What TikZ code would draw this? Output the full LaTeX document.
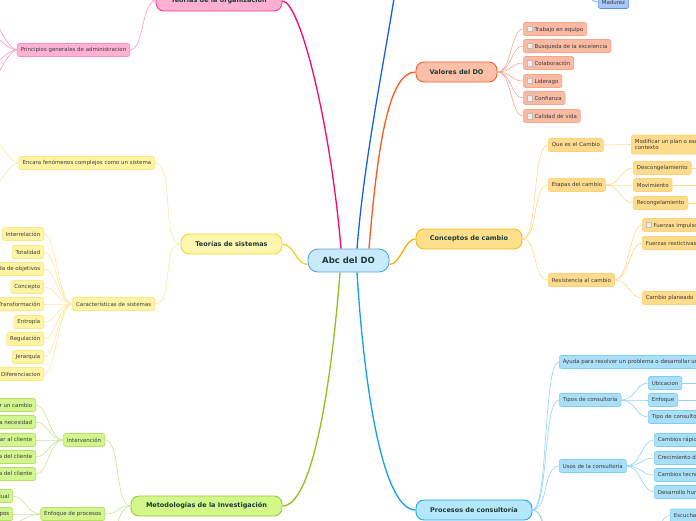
\documentclass[tikz,border=0pt]{standalone}
\usepackage{fontspec}
\setmainfont{DejaVu Sans}
\usetikzlibrary{calc}
\definecolor{maintext}{HTML}{1D3A34}
\definecolor{subtext}{HTML}{3A3A3A}
\definecolor{abcfill}{HTML}{C8EAFC}
\definecolor{abcdraw}{HTML}{4FA6DE}
\definecolor{pkline}{HTML}{F5076F}
\definecolor{pkfill}{HTML}{FFB0D2}
\definecolor{pkdraw}{HTML}{F43A8A}
\definecolor{pksfill}{HTML}{FFB2D4}
\definecolor{pksdraw}{HTML}{F78CC0}
\definecolor{pkcl}{HTML}{FA9AC6}
\definecolor{bline}{HTML}{1565D8}
\definecolor{bfill}{HTML}{A8C8FA}
\definecolor{bdraw}{HTML}{5A8EE8}
\definecolor{oline}{HTML}{F55A1E}
\definecolor{ofill}{HTML}{FCC0A8}
\definecolor{odraw}{HTML}{F06030}
\definecolor{osfill}{HTML}{FBBAA4}
\definecolor{osdraw}{HTML}{F8A58A}
\definecolor{ocl}{HTML}{F9A888}
\definecolor{yline}{HTML}{F5B000}
\definecolor{yfill}{HTML}{FFE08A}
\definecolor{ydraw}{HTML}{F5B820}
\definecolor{ysfill}{HTML}{FFDB8C}
\definecolor{ysdraw}{HTML}{FDD27A}
\definecolor{ycl}{HTML}{FFD98C}
\definecolor{cline}{HTML}{12A0E6}
\definecolor{cfill}{HTML}{B4E6FC}
\definecolor{cdraw}{HTML}{22A6E8}
\definecolor{csfill}{HTML}{AADFF8}
\definecolor{csdraw}{HTML}{7FCDF0}
\definecolor{ccl}{HTML}{8FD5F5}
\definecolor{gline}{HTML}{8CC21A}
\definecolor{gfill}{HTML}{D4F78C}
\definecolor{gdraw}{HTML}{9CCC2A}
\definecolor{gsfill}{HTML}{D2F590}
\definecolor{gsdraw}{HTML}{B6E060}
\definecolor{gcl}{HTML}{C6E69A}
\definecolor{sline}{HTML}{F2D21E}
\definecolor{sfill}{HTML}{FFF6B0}
\definecolor{sdraw}{HTML}{F0D830}
\definecolor{ssfill}{HTML}{FFF4A4}
\definecolor{ssdraw}{HTML}{FFE680}
\definecolor{scl}{HTML}{FBE9A0}
\definecolor{chkb}{HTML}{BDBDBD}
\definecolor{chkf}{HTML}{EDEDED}
\newcommand\mychk{{\setlength\fboxsep{0pt}\setlength\fboxrule{0.4pt}\fcolorbox{chkb}{chkf}{\rule{0pt}{5pt}\rule{5pt}{0pt}}}\hspace{2pt}}
\begin{document}
\begin{tikzpicture}[x=1pt,y=-1pt,
  mainbox/.style={rounded corners=8pt, line width=0.9pt, minimum height=20pt, inner sep=0pt,
     font=\fontsize{6.5}{7}\selectfont\bfseries, text=maintext},
  subbox/.style={rounded corners=2pt, line width=0.6pt, minimum height=13pt, inner xsep=3.5pt, inner ysep=0pt,
     font=\fontsize{5.45}{6.3}\selectfont, text=subtext},
  pinkmain/.style={mainbox, fill=pkfill, draw=pkdraw},
  pinksub/.style={subbox, fill=pksfill, draw=pksdraw},
  pinkconn/.style={draw=pkcl, line width=0.6pt},
  orgmain/.style={mainbox, fill=ofill, draw=odraw},
  orgsub/.style={subbox, fill=osfill, draw=osdraw, anchor=west},
  orgconn/.style={draw=ocl, line width=0.6pt},
  ambmain/.style={mainbox, fill=yfill, draw=ydraw},
  ambsub/.style={subbox, fill=ysfill, draw=ysdraw, anchor=west},
  ambconn/.style={draw=ycl, line width=0.6pt},
  cyanmain/.style={mainbox, fill=cfill, draw=cdraw},
  cyansub/.style={subbox, fill=csfill, draw=csdraw, anchor=west},
  cyanconn/.style={draw=ccl, line width=0.6pt},
  grnmain/.style={mainbox, fill=gfill, draw=gdraw},
  grnsub/.style={subbox, fill=gsfill, draw=gsdraw, anchor=east},
  grnconn/.style={draw=gcl, line width=0.6pt},
  yelmain/.style={mainbox, fill=sfill, draw=sdraw},
  yelsub/.style={subbox, fill=ssfill, draw=ssdraw, anchor=east},
  yelconn/.style={draw=scl, line width=0.6pt},
  mainline/.style={line width=1.3pt},
]
\useasboundingbox (0,0) rectangle (696,520);
\clip (0,0) rectangle (696,520);
\fill[white] (0,0) rectangle (696,520);

% central
\node[rounded corners=10pt, line width=0.9pt, fill=abcfill, draw=abcdraw, minimum width=81pt, minimum height=23pt,
  inner sep=0pt, font=\fontsize{8.5}{9}\selectfont\bfseries, text=maintext] (abc) at (348.5,260.5) {Abc del DO};

% main nodes
\node[pinkmain, minimum width=126pt] (teorg) at (219,1) {Teorías de la organización};
\node[orgmain, minimum width=81pt] (valores) at (456.5,72) {Valores del DO};
\node[ambmain, minimum width=106pt] (concep) at (469,239) {Conceptos de cambio};
\node[cyanmain, minimum width=116pt] (proc) at (474,510) {Procesos de consultoría};
\node[grnmain, minimum width=151pt] (metod) at (206.5,506) {Metodologías de la Investigación};
\node[yelmain, minimum width=101pt] (sist) at (231.5,244) {Teorías de sistemas};

% off-picture anchors
\coordinate (topblue) at (400,-40);
\node[subbox, fill=bfill, draw=bdraw, anchor=west] (madurez) at (598,2) {Madurez};
\coordinate (madoff) at (580,-15);

% main connectors
\draw[mainline, pkline] ([xshift=-7.5pt]abc.north) .. controls +(-11,-129) and +(17,0) .. (teorg.east);
\draw[mainline, bline] ([xshift=8.5pt]abc.north) .. controls +(8,-99) and +(-13,90) .. (topblue);
\draw[mainline, oline] ([xshift=20.5pt]abc.north) .. controls +(9,-109) and +(-26,0) .. (valores.west);
\draw[mainline, yline] ([yshift=-4pt]abc.east) .. controls +(11,0) and +(-11,0) .. (concep.west);
\draw[mainline, sline] ([yshift=-4pt]abc.west) .. controls +(-11,0) and +(11,0) .. (sist.east);
\draw[mainline, gline] ([xshift=-8.5pt]abc.south) .. controls +(-10,128) and +(28,0) .. (metod.east);
\draw[mainline, cline] ([xshift=8.5pt]abc.south) .. controls +(8,128) and +(-31,0) .. (proc.west);
\draw[draw=bdraw, line width=0.6pt] (madurez.west) .. controls +(-8,0) and +(8,8) .. (madoff);

% Valores del DO
\node[orgsub] (v1) at (523,29) {\mychk Trabajo en equipo};
\node[orgsub] (v2) at (523,46) {\mychk Busqueda de la excelencia};
\node[orgsub] (v3) at (523,63) {\mychk Colaboración};
\node[orgsub] (v4) at (523,81) {\mychk Liderago};
\node[orgsub] (v5) at (523,98) {\mychk Confianza};
\node[orgsub] (v6) at (523,116) {\mychk Calidad de vida};
\foreach \n in {v1,v2,v3,v4,v5,v6}
  \draw[orgconn] (valores.east) .. controls +(14,0) and +(-12,0) .. (\n.west);

% Conceptos de cambio
\node[ambsub] (c1) at (548,145) {Que es el Cambio};
\node[ambsub] (c2) at (548,185) {Etapas del cambio};
\node[ambsub] (c3) at (548,280) {Resistencia al cambio};
\node[ambsub, align=left, minimum height=19pt, inner ysep=1pt] (c1a) at (631,144.5) {Modificar un plan o esquema según el\\contexto};
\node[ambsub] (c2a) at (633,168) {Descongelamiento};
\node[ambsub] (c2b) at (633,185) {Movimiento};
\node[ambsub] (c2c) at (633,203) {Recongelamiento};
\node[ambsub] (c3a) at (642,225) {\mychk Fuerzas impulsoras};
\node[ambsub] (c3b) at (642,243) {Fuerzas restictivas};
\node[ambsub] (c3c) at (642,298) {Cambio planeado};
\foreach \n in {c1,c2,c3}
  \draw[ambconn] (concep.east) .. controls +(16,0) and +(-16,0) .. (\n.west);
\draw[ambconn] (c1.east) -- (c1a.west);
\foreach \n in {c2a,c2b,c2c}
  \draw[ambconn] (c2.east) .. controls +(14,0) and +(-12,0) .. (\n.west);
\foreach \n in {c3a,c3b,c3c}
  \draw[ambconn] (c3.east) .. controls +(14,0) and +(-12,0) .. (\n.west);
\coordinate (c2aoff) at (720,168);
\coordinate (c2boff) at (720,185);
\coordinate (c2coff) at (720,203);
\draw[ambconn] (c2a.east) -- (c2aoff);
\draw[ambconn] (c2b.east) -- (c2boff);
\draw[ambconn] (c2c.east) -- (c2coff);

% Procesos de consultoria
\node[cyansub] (p1) at (559,362) {Ayuda para resolver un problema o desarrollar una oportunidad};
\node[cyansub] (p2) at (559,400) {Tipos de consultoría};
\node[cyansub] (p3) at (559,466) {Usos de la consultoría};
\node[cyansub] (p2a) at (648,383) {Ubicacion};
\node[cyansub] (p2b) at (648,400) {Enfoque};
\node[cyansub] (p2c) at (648,417) {Tipo de consultoría};
\node[cyansub] (p3a) at (654,440) {Cambios rápidos};
\node[cyansub] (p3b) at (654,458) {Crecimiento del negocio};
\node[cyansub] (p3c) at (654,475) {Cambios tecnológicos};
\node[cyansub] (p3d) at (654,492) {Desarrollo humano};
\node[cyansub] (esc) at (670,515.5) {Escuchar};
\coordinate (procoff1) at (545,540);
\coordinate (procoff2) at (548,560);
\coordinate (escoff) at (655,535);
\foreach \n in {p1,p2,p3}
  \draw[cyanconn] (proc.east) .. controls +(16,0) and +(-16,0) .. (\n.west);
\draw[cyanconn] (proc.east) .. controls +(10,0) and +(0,-10) .. (procoff1);
\draw[cyanconn] (proc.east) .. controls +(12,0) and +(0,-10) .. (procoff2);
\foreach \n in {p2a,p2b,p2c}
  \draw[cyanconn] (p2.east) .. controls +(14,0) and +(-12,0) .. (\n.west);
\foreach \n in {p3a,p3b,p3c,p3d}
  \draw[cyanconn] (p3.east) .. controls +(14,0) and +(-12,0) .. (\n.west);
\draw[cyanconn] (esc.west) .. controls +(-8,0) and +(6,-8) .. (escoff);
\coordinate (p2aoff) at (720,383);
\coordinate (p2boff) at (720,400);
\draw[cyanconn] (p2a.east) -- (p2aoff);
\draw[cyanconn] (p2b.east) -- (p2boff);

% Metodologias de la investigacion
\node[grnsub] (m1) at (105,440) {Intervención};
\node[grnsub] (m2) at (105,514) {Enfoque de procesos};
\node[grnsub] (m1a) at (36,405) {Generar un cambio};
\node[grnsub] (m1b) at (36,422) {Detectar la necesidad};
\node[grnsub] (m1c) at (36,440) {Ayudar al cliente};
\node[grnsub] (m1d) at (36,457) {Perspectiva del cliente};
\node[grnsub] (m1e) at (36,474) {Respuesta del cliente};
\node[grnsub] (m2a) at (13,496) {Individual};
\node[grnsub] (m2b) at (13,514) {Equipos};
\coordinate (metoff) at (115,540);
\coordinate (m2off) at (-5,540);
\foreach \n in {m1,m2}
  \draw[grnconn] (metod.west) .. controls +(-16,0) and +(16,0) .. (\n.east);
\draw[grnconn] (metod.west) .. controls +(-10,0) and +(0,-12) .. (metoff);
\foreach \n in {m1a,m1b,m1c,m1d,m1e}
  \draw[grnconn] (m1.west) .. controls +(-14,0) and +(12,0) .. (\n.east);
\foreach \n in {m2a,m2b}
  \draw[grnconn] (m2.west) .. controls +(-14,0) and +(12,0) .. (\n.east);
\draw[grnconn] (m2.west) .. controls +(-14,0) and +(10,-10) .. (m2off);

% Teorias de sistemas
\node[yelsub] (s1) at (155,163) {Encara fenómenos complejos como un sistema};
\node[yelsub] (s2) at (155,304) {Características de sistemas};
\node[yelsub] (s2a) at (44,234) {Interrelación};
\node[yelsub] (s2b) at (44,252) {Totalidad};
\node[yelsub] (s2c) at (44,269) {Búsqueda de objetivos};
\node[yelsub] (s2d) at (44,287) {Concepto};
\node[yelsub] (s2e) at (44,304) {Transformación};
\node[yelsub] (s2f) at (44,322) {Entropía};
\node[yelsub] (s2g) at (44,339) {Regulación};
\node[yelsub] (s2h) at (44,357) {Jerarquía};
\node[yelsub] (s2i) at (44,374) {Diferenciacion};
\coordinate (s1off1) at (-8,130);
\coordinate (s1off2) at (-8,195);
\foreach \n in {s1,s2}
  \draw[yelconn] (sist.west) .. controls +(-20,0) and +(20,0) .. (\n.east);
\foreach \n in {s2a,s2b,s2c,s2d,s2e,s2f,s2g,s2h,s2i}
  \draw[yelconn] (s2.west) .. controls +(-14,0) and +(12,0) .. (\n.east);
\draw[yelconn] (s1.west) .. controls +(-8,0) and +(6,12) .. (s1off1);
\draw[yelconn] (s1.west) .. controls +(-8,0) and +(6,-12) .. (s1off2);

% Teorias de la organizacion
\node[pinksub, anchor=east] (o1) at (130,50) {Principios generales de administracion};
\coordinate (teoff) at (140,-25);
\coordinate (o1off1) at (-8,15);
\coordinate (o1off2) at (-8,35);
\coordinate (o1off3) at (-8,65);
\coordinate (o1off4) at (-8,85);
\draw[pinkconn] (teorg.west) .. controls +(-14,0) and +(14,0) .. (o1.east);
\draw[pinkconn] (teorg.west) .. controls +(-8,0) and +(4,10) .. (teoff);
\draw[pinkconn] (o1.west) .. controls +(-8,0) and +(6,10) .. (o1off1);
\draw[pinkconn] (o1.west) .. controls +(-8,0) and +(8,4) .. (o1off2);
\draw[pinkconn] (o1.west) .. controls +(-8,0) and +(8,-4) .. (o1off3);
\draw[pinkconn] (o1.west) .. controls +(-8,0) and +(6,-10) .. (o1off4);
\end{tikzpicture}
\end{document}
